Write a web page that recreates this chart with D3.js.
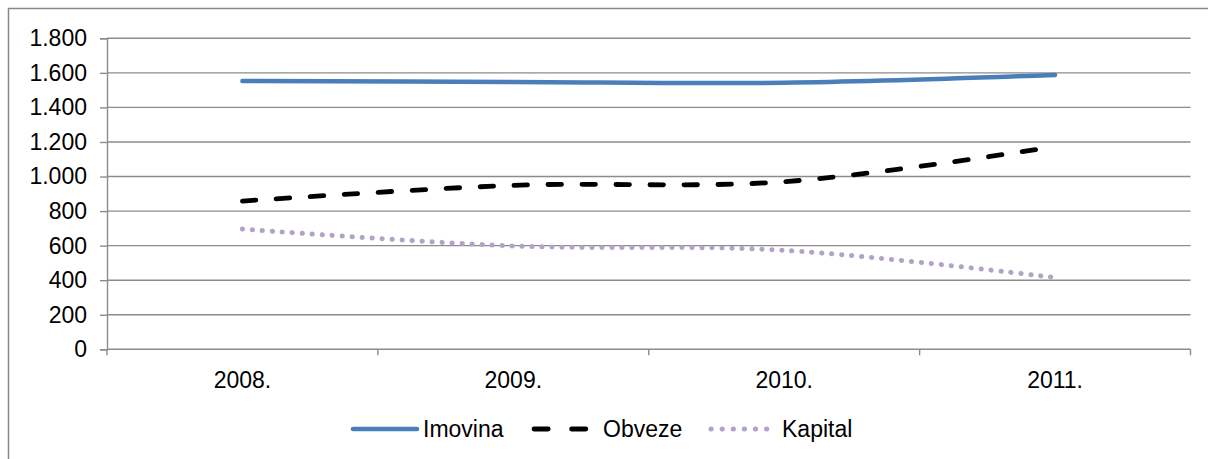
<!DOCTYPE html>
<html>
<head>
<meta charset="utf-8">
<script src="https://cdn.jsdelivr.net/npm/d3@7"></script>
<style>
  html, body { margin: 0; padding: 0; background: #fff; }
  svg { display: block; font-family: "Liberation Sans", Arial, sans-serif; }
</style>
</head>
<body>
<svg id="chart" width="1208" height="459"></svg>
<script>
const categories = ["2008.", "2009.", "2010.", "2011."];
const imovina = [1553, 1547, 1543, 1588];
const obveze = [858, 949, 970, 1173];
const kapital = [696, 598, 573, 415];
const yTicks = [0, 200, 400, 600, 800, 1000, 1200, 1400, 1600, 1800];
const seriesNames = ["Imovina", "Obveze", "Kapital"];

const svg = d3.select("#chart");
const W = 1208, H = 459;
const plot = { left: 107, right: 1190.5, top: 38.3, bottom: 349.3 };

// outer border (cropped at right/bottom)
svg.append("rect")
  .attr("x", 8.5).attr("y", 8.5)
  .attr("width", W + 10).attr("height", H + 10)
  .attr("fill", "none").attr("stroke", "#888").attr("stroke-width", 1.5);

const x = d3.scaleBand().domain(categories).range([plot.left, plot.right]).padding(0);
const y = d3.scaleLinear().domain([0, 1800]).range([plot.bottom, plot.top]);

const fmt = v => d3.format(",")(v).replace(/,/g, ".");

// gridlines
svg.append("g").selectAll("line").data(yTicks.filter(d => d > 0)).join("line")
  .attr("x1", plot.left).attr("x2", plot.right)
  .attr("y1", d => y(d)).attr("y2", d => y(d))
  .attr("stroke", "#8c8c8c").attr("stroke-width", 1.4);

// y axis
const yAxis = d3.axisLeft(y).tickValues(yTicks).tickSize(7).tickPadding(13).tickFormat(fmt);
const gy = svg.append("g").attr("transform", `translate(${plot.left},0)`).call(yAxis);
gy.select(".domain").attr("stroke", "#8c8c8c").attr("stroke-width", 1.4);
gy.selectAll(".tick line").attr("stroke", "#8c8c8c").attr("stroke-width", 1.4);
gy.selectAll(".tick text").attr("font-size", 23).attr("fill", "#000")
  .attr("font-family", "'Liberation Sans', Arial, sans-serif");

// x axis
const xAxis = d3.axisBottom(x).tickSize(0).tickPadding(0);
const gx = svg.append("g").attr("transform", `translate(0,${plot.bottom})`).call(xAxis);
gx.select(".domain").remove();
gx.selectAll(".tick text").remove();
svg.append("line").attr("x1", plot.left).attr("x2", plot.right)
  .attr("y1", plot.bottom).attr("y2", plot.bottom)
  .attr("stroke", "#8c8c8c").attr("stroke-width", 1.4);
const bounds = categories.map(c => x(c)).concat([plot.right]);
svg.append("g").selectAll("line").data(bounds).join("line")
  .attr("x1", d => d).attr("x2", d => d)
  .attr("y1", plot.bottom).attr("y2", plot.bottom + 6)
  .attr("stroke", "#8c8c8c").attr("stroke-width", 1.4);
svg.append("g").selectAll("text").data(categories).join("text")
  .attr("x", d => x(d) + x.bandwidth() / 2)
  .attr("y", 387.5)
  .attr("text-anchor", "middle")
  .attr("font-size", 23).attr("fill", "#000")
  .text(d => d);

// lines
const cx = (d, i) => x(categories[i]) + x.bandwidth() / 2;
const line = d3.line().x(cx).y(d => y(d)).curve(d3.curveCardinal.tension(0));

const styles = {
  Imovina: { color: "#4a7ebb", dash: null, width: 4.5, cap: "round" },
  Obveze: { color: "#000000", dash: "13.5 20.5", width: 4.8, cap: "round" },
  Kapital: { color: "#b3a2c7", dash: "0.2 9.8", width: 5, cap: "round" }
};
const data = { Imovina: imovina, Obveze: obveze, Kapital: kapital };

seriesNames.forEach(name => {
  const s = styles[name];
  svg.append("path").datum(data[name])
    .attr("d", line)
    .attr("fill", "none")
    .attr("stroke", s.color)
    .attr("stroke-width", s.width)
    .attr("stroke-linecap", s.cap)
    .attr("stroke-linejoin", "round")
    .attr("stroke-dasharray", s.dash);
});

// legend
const legend = [
  { name: "Imovina", x1: 353, x2: 417, tx: 423, dash: null },
  { name: "Obveze", x1: 534, x2: 587, tx: 603, dash: "14.2 23.4" },
  { name: "Kapital", x1: 711, x2: 768, tx: 782, dash: "0.2 10.9" }
];
const ly = 429;
legend.forEach(l => {
  const s = styles[l.name];
  svg.append("line")
    .attr("x1", l.x1).attr("x2", l.x2).attr("y1", ly).attr("y2", ly)
    .attr("stroke", s.color).attr("stroke-width", s.width)
    .attr("stroke-linecap", s.cap)
    .attr("stroke-dasharray", l.dash);
  svg.append("text").attr("x", l.tx).attr("y", 437)
    .attr("font-size", 23).attr("fill", "#000").text(l.name);
});
</script>
</body>
</html>
